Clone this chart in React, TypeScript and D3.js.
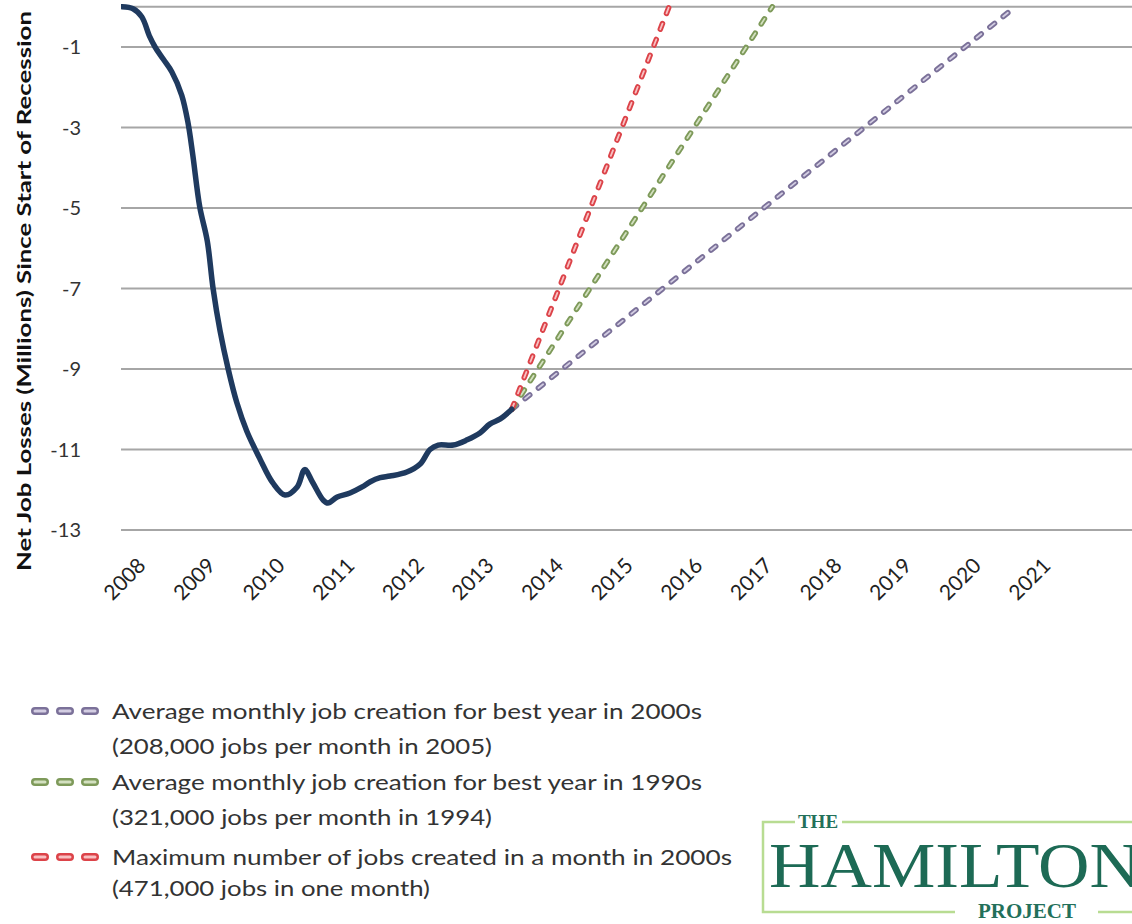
import * as d3 from "d3"

// months since Jan 2008, net job losses (millions) since start of recession
const MONTHS = [
  -3.1, -1.2, 0.3, 1.7, 2.6, 4.0, 5.5, 7.2, 8.3, 9.1, 10.3, 11.6, 12.6, 13.8, 15.2, 16.7, 18.4, 20.7,
  22.9, 25.0, 27.1, 28.4, 29.7, 31.6, 32.4, 34.0, 36.2, 38.3, 39.7, 41.4, 43.1, 46.0, 48.3, 50.0, 51.4,
  54.0, 56.4, 58.6, 60.3, 62.1, 64.1,
]
const LOSSES = [
  0, -0.05, -0.25, -0.75, -1.0, -1.3, -1.62, -2.2, -2.9, -3.68, -4.97, -5.82, -7.0, -8.05, -9.0, -9.84,
  -10.54, -11.24, -11.83, -12.13, -11.93, -11.5, -11.8, -12.26, -12.33, -12.18, -12.08, -11.93, -11.8,
  -11.7, -11.66, -11.56, -11.36, -11.0, -10.89, -10.89, -10.76, -10.59, -10.37, -10.24, -10.0,
]

// projections: start month/value, month at which the gap closes
const PROJ_START = { month: 64.1, value: -10.0 }
const PROJ_NAMES = ["best2000s", "best1990s", "max2000s"]
const PROJ_END_MONTH = [150.9, 109.0, 91.2]
const PROJ_COLORS = [
  { outer: "#7b7199", inner: "#d3cde2" },
  { outer: "#7e9a5a", inner: "#d3e0c0" },
  { outer: "#dc4349", inner: "#f8c0c2" },
]

const LEGEND_TEXT = [
  ["Average monthly job creation for best year in 2000s", "(208,000 jobs per month in 2005)"],
  ["Average monthly job creation for best year in 1990s", "(321,000 jobs per month in 1994)"],
  ["Maximum number of jobs created in a month  in 2000s", "(471,000 jobs in one month)"],
]
const LEGEND_WIDTHS = [
  [590, 380],
  [590, 380],
  [620, 318],
]

const Y_TICKS = [-1, -3, -5, -7, -9, -11, -13]
const YEARS = d3.range(2008, 2022)

const W = 1132
const H = 924
const FONT = "Lato, 'Open Sans', sans-serif"
const SERIF = "'Liberation Serif', 'DejaVu Serif', serif"

export default function App() {
  const x = d3.scaleLinear().domain([-3.1, 171]).range([122, 1132])
  const y = d3.scaleLinear().domain([-13, 0]).range([530, 6.75])

  const mainLine = d3
    .line<number>()
    .x((_, i) => x(MONTHS[i]))
    .y((d) => y(d))
    .curve(d3.curveCatmullRom.alpha(0.5))

  const projLine = (endMonth: number) =>
    d3.line<[number, number]>()
      .x((d) => x(d[0]))
      .y((d) => y(d[1]))([
      [PROJ_START.month, PROJ_START.value],
      [endMonth, 0],
    ]) || ""

  const legendRows = [0, 1, 2]
  const legendY = [711, 782, 857]
  const legendY2 = [746, 817, 888]

  return (
    <svg width={W} height={H} style={{ position: "absolute", left: 0, top: 0, background: "#fff" }}>
      <defs>
        <clipPath id="plot">
          <rect x={121} y={4} width={W} height={530} />
        </clipPath>
      </defs>

      {/* gridlines */}
      {[0, ...Y_TICKS].map((t) => (
        <line key={t} x1={121} x2={W} y1={y(t)} y2={y(t)} stroke="#a6a6a6" strokeWidth={2} />
      ))}

      {/* y labels */}
      {Y_TICKS.map((t) => (
        <text key={t} x={81} y={y(t)} dy="0.35em" textAnchor="end" fontFamily={FONT} fontSize={20} fill="#333">
          {t}
        </text>
      ))}

      <text
        transform={`translate(31,291) rotate(-90)`}
        textAnchor="middle"
        fontFamily={FONT}
        fontWeight="bold"
        fontSize={18}
        fill="#111"
        textLength={560}
        lengthAdjust="spacingAndGlyphs"
      >
        Net Job Losses (Millions)  Since Start of Recession
      </text>

      {/* x labels */}
      {YEARS.map((yr) => (
        <text
          key={yr}
          transform={`translate(${x((yr - 2008) * 12) + 7},${567}) rotate(-45)`}
          textAnchor="end"
          fontFamily={FONT}
          fontSize={21}
          fill="#222"
        >
          {yr}
        </text>
      ))}

      <g clipPath="url(#plot)">
        {/* projection lines */}
        {PROJ_NAMES.map((n, i) => (
          <g key={n}>
            <path d={projLine(PROJ_END_MONTH[i])} fill="none" stroke={PROJ_COLORS[i].outer} strokeWidth={5.5}
              strokeDasharray="6 11" strokeLinecap="round" />
            <path d={projLine(PROJ_END_MONTH[i])} fill="none" stroke={PROJ_COLORS[i].inner} strokeWidth={1.8}
              strokeDasharray="6 11" strokeLinecap="round" />
          </g>
        ))}
        {/* main series */}
        <path d={mainLine(LOSSES) || ""} fill="none" stroke="#1f3a5f" strokeWidth={5.5}
          strokeLinejoin="round" strokeLinecap="round" />
      </g>

      {/* legend */}
      {legendRows.map((i) => (
        <g key={i}>
          <line x1={35} x2={95} y1={legendY[i]} y2={legendY[i]} stroke={PROJ_COLORS[i].outer} strokeWidth={8}
            strokeDasharray="10 15" strokeLinecap="round" />
          <line x1={35} x2={95} y1={legendY[i]} y2={legendY[i]} stroke={PROJ_COLORS[i].inner} strokeWidth={3}
            strokeDasharray="10 15" strokeLinecap="round" />
          <text x={112} y={legendY[i]} dy="0.35em" fontFamily={FONT} fontSize={22} fill="#333"
            textLength={LEGEND_WIDTHS[i][0]} lengthAdjust="spacingAndGlyphs">
            {LEGEND_TEXT[i][0]}
          </text>
          <text x={112} y={legendY2[i]} dy="0.35em" fontFamily={FONT} fontSize={22} fill="#333"
            textLength={LEGEND_WIDTHS[i][1]} lengthAdjust="spacingAndGlyphs">
            {LEGEND_TEXT[i][1]}
          </text>
        </g>
      ))}

      {/* logo */}
      <g>
        <path d={`M795,822 H763 V912 H955 M1098,912 H${W} M842,822 H${W}`} fill="none" stroke="#b8dc92" strokeWidth={2.5} />
        <text x={818} y={828} textAnchor="middle" fontFamily={SERIF} fontWeight="bold" fontSize={19} fill="#23705a">
          THE
        </text>
        <text x={769} y={887} fontFamily={SERIF} fontSize={64} fill="#1d6a55" textLength={372} lengthAdjust="spacingAndGlyphs">
          HAMILTON
        </text>
        <text x={1027} y={918} textAnchor="middle" fontFamily={SERIF} fontWeight="bold" fontSize={21} fill="#23705a">
          PROJECT
        </text>
      </g>
    </svg>
  )
}
